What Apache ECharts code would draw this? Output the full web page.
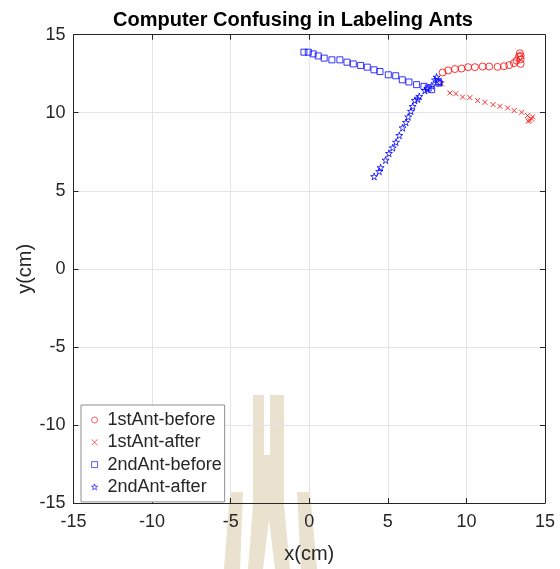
<!DOCTYPE html>
<html>
<head>
<meta charset="utf-8">
<script src="https://cdn.jsdelivr.net/npm/echarts@6/dist/echarts.min.js"></script>
<style>html,body{margin:0;padding:0;background:#fff}#c{width:560px;height:569px}</style>
</head>
<body>
<div id="c"></div>
<script>
// ---- data (cm) ----
const ant1Before = [
  [8.49,12.58],[8.84,12.71],[9.27,12.80],[9.69,12.83],[10.11,12.92],[10.54,12.92],
  [11.03,12.96],[11.45,12.96],[11.98,12.94],[12.39,12.98],[12.72,13.05],[13.02,13.18],
  [13.19,13.34],[13.34,13.60],[13.40,13.81],[13.45,13.64],[13.45,13.43],[13.45,13.13]
];
const ant1After = [
  [8.42,11.84],[8.95,11.27],[9.33,11.22],[9.76,11.01],[10.22,10.97],[10.71,10.78],
  [11.18,10.67],[11.70,10.52],[12.13,10.41],[12.62,10.31],[13.04,10.14],[13.51,10.03],
  [13.89,9.82],[14.21,9.74],[14.14,9.61],[14.04,9.50],[13.93,9.46]
];
const ant2Before = [
  [-0.34,13.88],[-0.06,13.88],[0.25,13.77],[0.57,13.64],[0.95,13.50],[1.44,13.39],
  [1.95,13.39],[2.40,13.24],[2.80,13.13],[3.27,13.03],[3.69,12.92],[4.12,12.75],
  [4.50,12.64],[5.03,12.43],[5.50,12.37],[5.92,12.11],[6.34,11.97],[6.83,11.80],
  [7.30,11.69],[7.57,11.59],[7.79,11.48],[8.21,12.01],[8.25,11.90]
];
const ant2After = [
  [4.13,5.92],[4.45,6.25],[4.54,6.49],[4.86,6.97],[5.07,7.40],[5.31,7.76],
  [5.52,8.12],[5.73,8.55],[5.94,9.04],[6.15,9.39],[6.30,9.74],[6.47,10.10],
  [6.58,10.41],[6.72,10.80],[6.90,10.88],[7.00,11.05],[7.36,11.43],[7.51,11.54],
  [7.79,11.73],[8.00,12.11],[8.10,12.29],[8.31,11.94]
];
const seriesNames = ['1stAnt-before','1stAnt-after','2ndAnt-before','2ndAnt-after'];
const axisTicks = [-15,-10,-5,0,5,10,15];

const STAR = 'path://M50,0 L61,35 L98,35 L68,57 L79,91 L50,70 L21,91 L32,57 L2,35 L39,35 Z';
const XMARK = 'path://M0,0 L10,10 M10,0 L0,10';
const SQUARE = 'path://M0,0 L10,0 L10,10 L0,10 Z';
const RED = '#ff0000', BLUE = '#0000ff', AX = '#262626', GRID = '#e4e4e4';
const WM = '#ebe1cf';
const FONT = 'Liberation Sans, Arial, sans-serif';

const chart = echarts.init(document.getElementById('c'), null, {renderer:'canvas'});

function mk(name, data, symbol, color, size) {
  return {
    name, type:'scatter', data, symbol, symbolSize:size,
    itemStyle:{color:'transparent', borderColor:color, borderWidth:1},
    emphasis:{disabled:true}, z:5
  };
}

const axCommon = {
  type:'value', min:-15, max:15, interval:5,
  axisLine:{show:true, onZero:false, lineStyle:{color:AX, width:1}},
  axisTick:{show:true, inside:true, length:5, lineStyle:{color:AX}},
  splitLine:{show:false}
};

chart.setOption({
  animation:false,
  title:{
    text:'Computer Confusing in Labeling Ants',
    left:288, textAlign:'center', top:5,
    textStyle:{fontFamily:FONT, fontWeight:'bold', fontSize:20, color:'#000'}
  },
  graphic:[
    {type:'polygon', zlevel:-1, silent:true, shape:{points:[[230,492],[243,492],[240,569],[224,569]]}, style:{fill:WM}},
    {type:'polygon', zlevel:-1, silent:true, shape:{points:[[297,492],[310,492],[317,569],[301,569]]}, style:{fill:WM}},
    {type:'polygon', zlevel:-1, silent:true, shape:{points:[[253,395],[264,395],[264,455],[270,455],[270,395],[284,395],[284,505],[290,569],[275,569],[269,520],[263,569],[248,569],[253,505]]}, style:{fill:WM}}
  ],
  grid:{left:73.5, right:15, top:34.7, bottom:63.3, containLabel:false},
  xAxis:[
    Object.assign({}, axCommon, {
      position:'bottom',
      name:'x(cm)', nameLocation:'middle', nameGap:41, nameMoveOverlap:false,
      nameTextStyle:{fontFamily:FONT, fontSize:20, color:AX},
      axisLabel:{show:true, margin:10, fontFamily:FONT, fontSize:18, color:AX,
        formatter:v=>axisTicks.includes(v)?String(v):''},
      splitLine:{show:true, lineStyle:{color:GRID, width:1}}
    }),
    Object.assign({}, axCommon, {position:'top', axisLabel:{show:false}})
  ],
  yAxis:[
    Object.assign({}, axCommon, {
      position:'left',
      name:'y(cm)', nameLocation:'middle', nameGap:38, nameRotate:90, nameMoveOverlap:false,
      nameTextStyle:{fontFamily:FONT, fontSize:20, color:AX},
      axisLabel:{show:true, margin:8, fontFamily:FONT, fontSize:18, color:AX,
        formatter:v=>axisTicks.includes(v)?String(v):''},
      splitLine:{show:true, lineStyle:{color:GRID, width:1}}
    }),
    Object.assign({}, axCommon, {position:'right', axisLabel:{show:false}})
  ],
  legend:{
    orient:'vertical', left:81, top:405,
    padding:[6,3,6,10], itemGap:4.3, itemWidth:8, itemHeight:6,
    backgroundColor:'#fff', borderColor:'#8f8f8f', borderWidth:1,
    textStyle:{fontFamily:FONT, fontSize:18, color:AX, padding:[0,0,0,4]},
    data:[
      {name:seriesNames[0], icon:'circle', itemStyle:{color:'transparent', borderColor:RED, borderWidth:0.8}},
      {name:seriesNames[1], icon:XMARK, itemStyle:{color:'transparent', borderColor:RED, borderWidth:0.8}},
      {name:seriesNames[2], icon:SQUARE, itemStyle:{color:'transparent', borderColor:BLUE, borderWidth:0.8}},
      {name:seriesNames[3], icon:STAR, itemStyle:{color:'transparent', borderColor:BLUE, borderWidth:0.8}}
    ],
    selectedMode:false
  },
  series:[
    mk(seriesNames[0], ant1Before, 'circle', RED, 7),
    mk(seriesNames[1], ant1After, XMARK, RED, 5),
    mk(seriesNames[2], ant2Before, SQUARE, BLUE, 6),
    mk(seriesNames[3], ant2After, STAR, BLUE, 7)
  ]
});
</script>
</body>
</html>
